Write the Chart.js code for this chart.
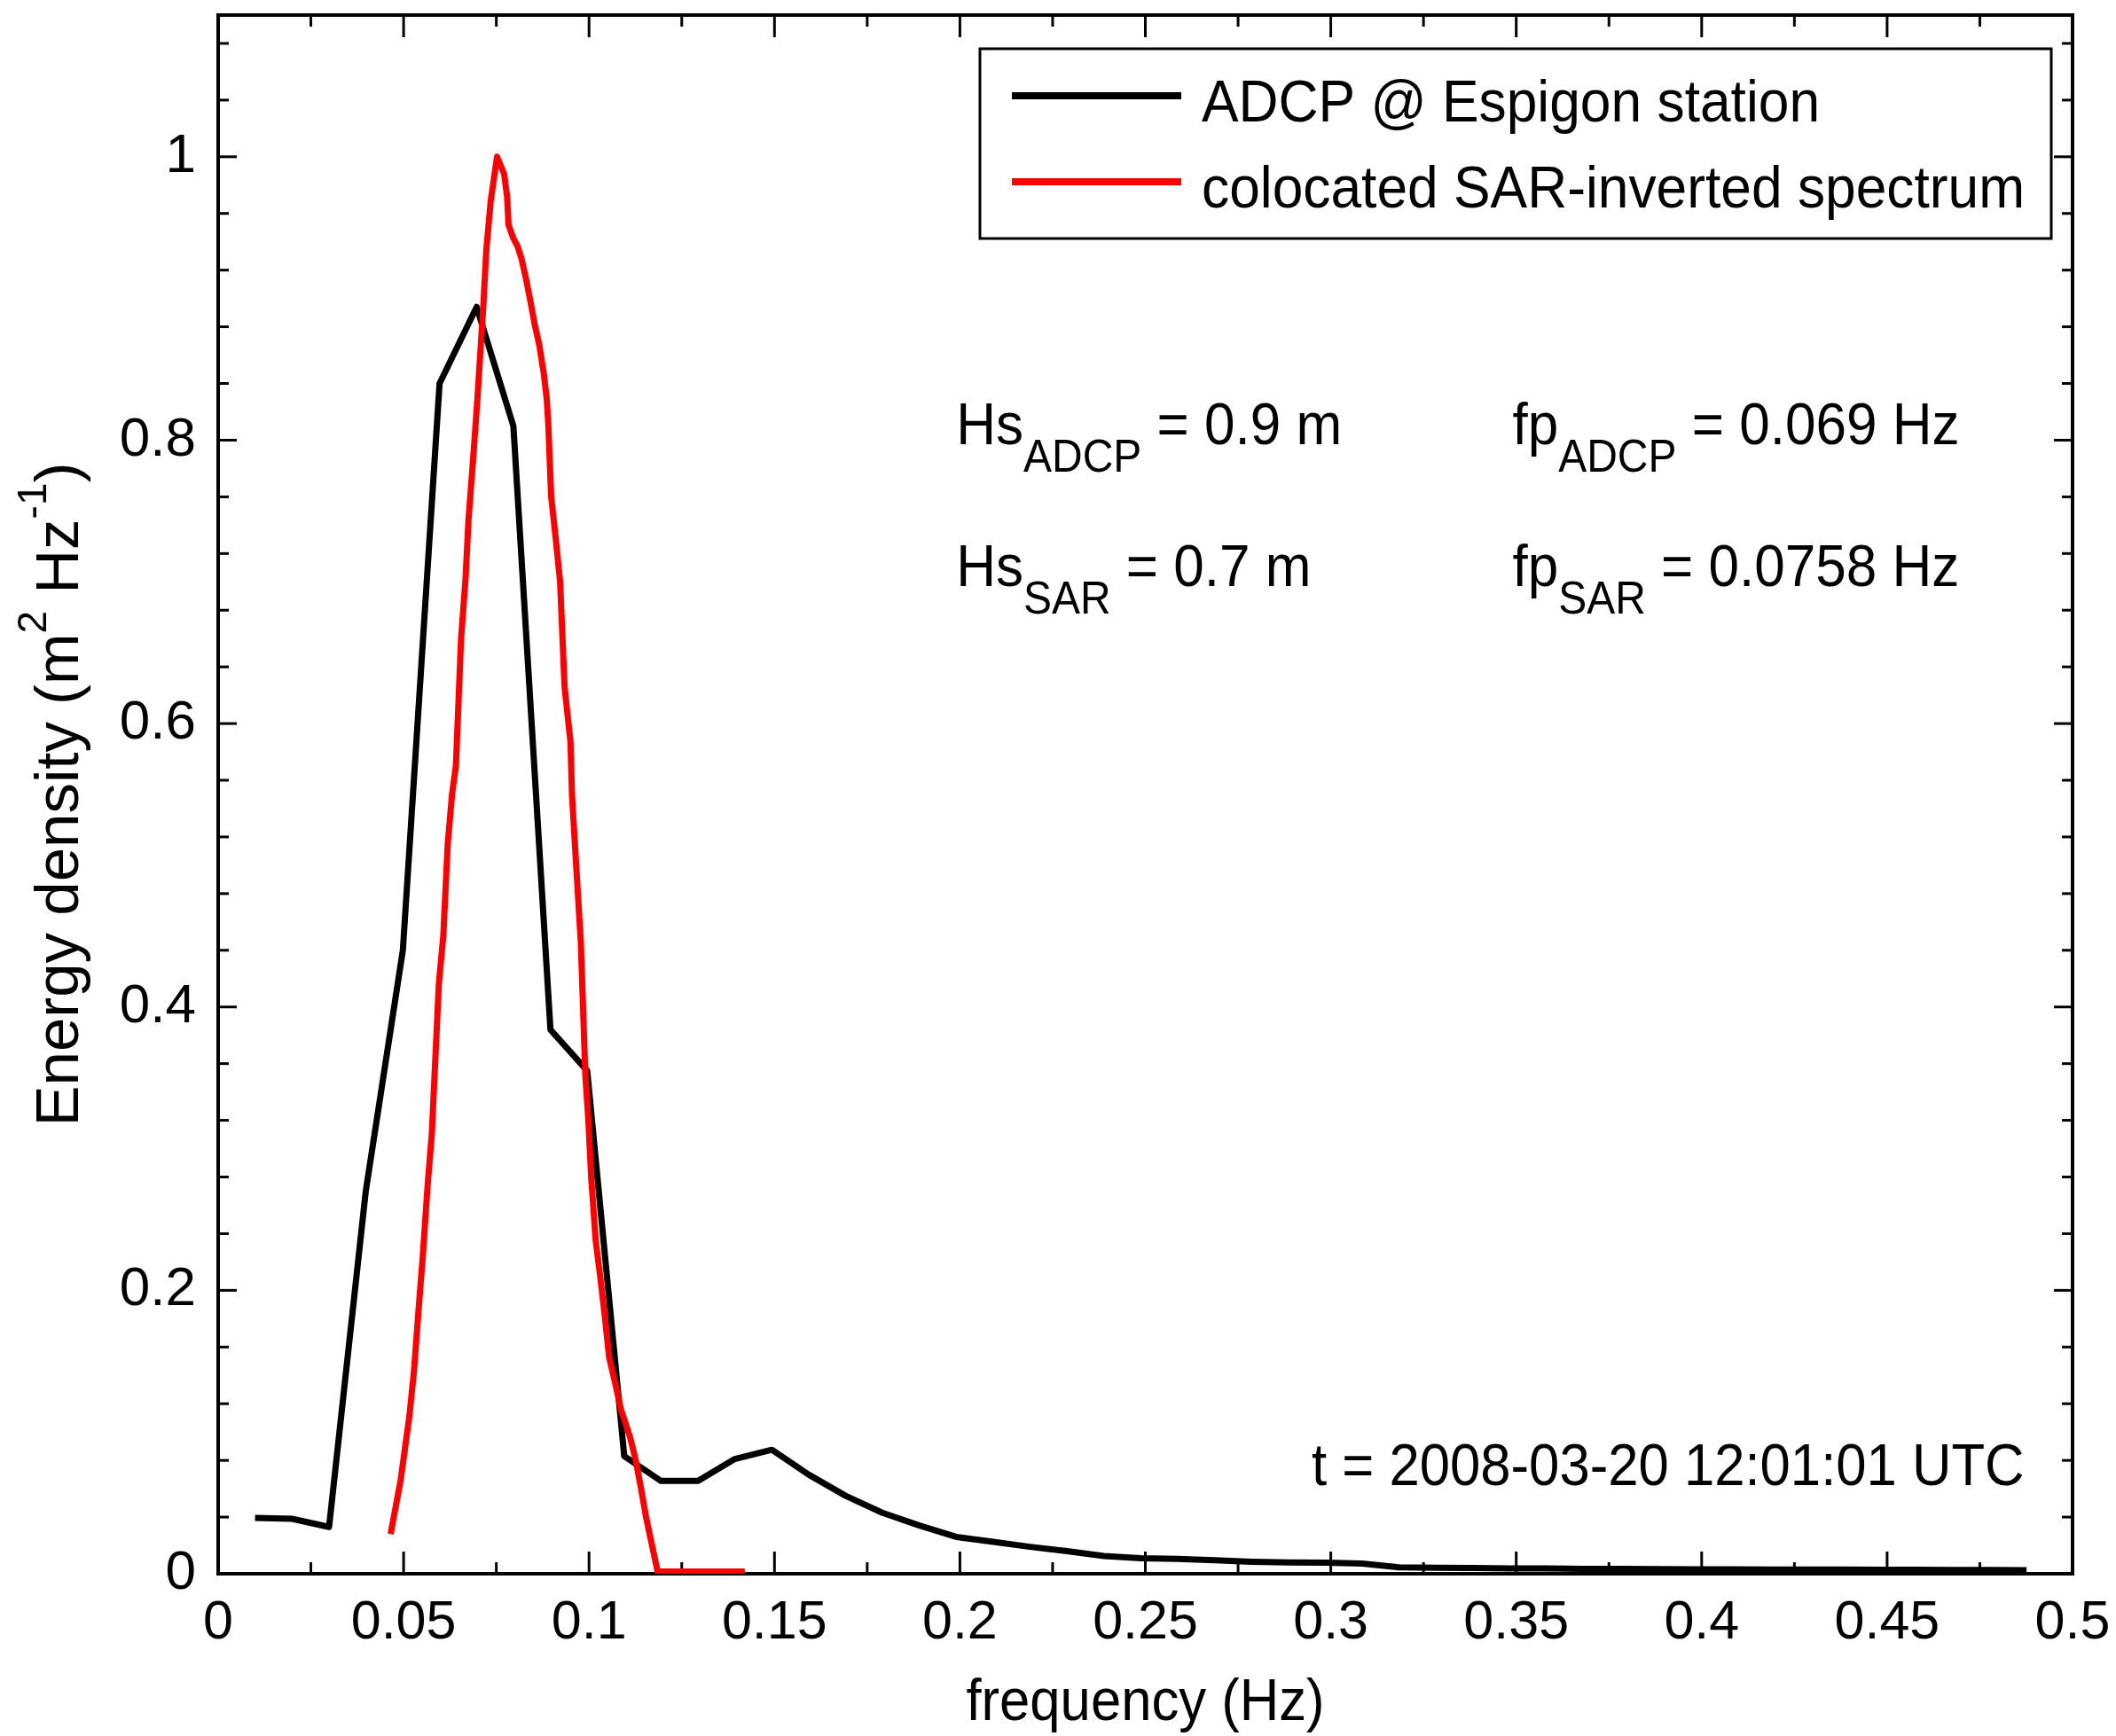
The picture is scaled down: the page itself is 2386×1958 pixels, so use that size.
<!DOCTYPE html>
<html>
<head>
<meta charset="utf-8">
<script src="https://cdn.jsdelivr.net/npm/chart.js@4.4.1/dist/chart.umd.min.js"></script>
<style>
  html, body { margin: 0; padding: 0; background: #fff; }
  #spectrumChart { display: block; }
</style>
</head>
<body>
<canvas id="spectrumChart" width="2386" height="1958"></canvas>
<script>
// ADCP spectrum (one value per frequency bin)
const adcpFreq = [0.00995, 0.0199, 0.0299, 0.0398, 0.0498, 0.0597, 0.0697, 0.0796, 0.0896, 0.0995,
  0.1095, 0.1194, 0.1294, 0.1393, 0.1493, 0.1592, 0.1692, 0.1791, 0.1891, 0.1990,
  0.2090, 0.2189, 0.2289, 0.2388, 0.2488, 0.2587, 0.2687, 0.2786, 0.2886, 0.2985,
  0.3085, 0.3184, 0.3284, 0.3383, 0.3483, 0.3582, 0.3682, 0.3781, 0.3881, 0.3980,
  0.4080, 0.4179, 0.4279, 0.4378, 0.4478, 0.4577, 0.4677, 0.4776, 0.4876];
const adcpDensity = [0.0394, 0.0388, 0.033, 0.270, 0.440, 0.840, 0.894, 0.810, 0.384, 0.355,
  0.083, 0.0655, 0.0655, 0.081, 0.0875, 0.070, 0.055, 0.043, 0.034, 0.026,
  0.0225, 0.019, 0.016, 0.0125, 0.011, 0.0105, 0.0095, 0.0085, 0.008, 0.0078,
  0.0072, 0.0045, 0.0042, 0.004, 0.0038, 0.0037, 0.0035, 0.0034, 0.0033, 0.0032,
  0.0031, 0.003, 0.003, 0.0029, 0.0028, 0.0028, 0.0027, 0.0026, 0.0025];

// SAR-inverted spectrum
const sarFreq = [0.0465, 0.0480, 0.0492, 0.0504, 0.0516, 0.0528, 0.0540, 0.0552, 0.0565, 0.0576,
  0.0585, 0.0595, 0.0607, 0.0619, 0.0631, 0.0641, 0.0655, 0.0667, 0.0675, 0.0687,
  0.0699, 0.0715, 0.0723, 0.0735, 0.0752, 0.0771, 0.0779, 0.0783, 0.0795, 0.0807,
  0.0818, 0.0830, 0.0842, 0.0854, 0.0866, 0.0878, 0.0886, 0.0890, 0.0898, 0.0910,
  0.0922, 0.0934, 0.0950, 0.0954, 0.0966, 0.0978, 0.0990, 0.0998, 0.1006, 0.1018,
  0.1030, 0.1042, 0.1054, 0.1070, 0.1086, 0.1110, 0.1126, 0.1141, 0.1153, 0.1165,
  0.1185, 0.1420];
const sarDensity = [0.028, 0.049, 0.066, 0.089, 0.112, 0.143, 0.185, 0.225, 0.275, 0.31,
  0.36, 0.416, 0.45, 0.515, 0.551, 0.57, 0.66, 0.702, 0.744, 0.785,
  0.829, 0.895, 0.934, 0.969, 1.0, 0.988, 0.972, 0.952, 0.943, 0.937,
  0.928, 0.914, 0.898, 0.881, 0.867, 0.847, 0.829, 0.812, 0.76, 0.731,
  0.70, 0.626, 0.587, 0.55, 0.497, 0.445, 0.352, 0.321, 0.279, 0.235,
  0.21, 0.183, 0.153, 0.135, 0.116, 0.097, 0.08, 0.059, 0.041, 0.026,
  0.0015, 0.0015];

const seriesLabels = ['ADCP @ Espigon station', 'colocated SAR-inverted spectrum'];
const seriesColors = ['#000000', '#ff0000'];

// axes
const xTickValues = [0, 0.05, 0.1, 0.15, 0.2, 0.25, 0.3, 0.35, 0.4, 0.45, 0.5];
const xTickLabels = ['0', '0.05', '0.1', '0.15', '0.2', '0.25', '0.3', '0.35', '0.4', '0.45', '0.5'];
const xMinorTicks = [0.025, 0.075, 0.125, 0.175, 0.225, 0.275, 0.325, 0.375, 0.425, 0.475];
const yTickValues = [0, 0.2, 0.4, 0.6, 0.8, 1];
const yTickLabels = ['0', '0.2', '0.4', '0.6', '0.8', '1'];
const yMinorTicks = [0.04, 0.08, 0.12, 0.16, 0.24, 0.28, 0.32, 0.36, 0.44, 0.48, 0.52, 0.56,
  0.64, 0.68, 0.72, 0.76, 0.84, 0.88, 0.92, 0.96, 1.04, 1.08];

const FONT = '"Liberation Sans", Arial, sans-serif';

// draws text parts [text, size, dy] one after the other, squeezed a bit horizontally
function richText(ctx, parts, x, y, align, sx) {
  let total = 0;
  parts.forEach(p => {
    ctx.font = p[1] + 'px ' + FONT;
    total += ctx.measureText(p[0]).width * sx;
  });
  let cx = x;
  if (align === 'center') cx = x - total / 2;
  if (align === 'right') cx = x - total;
  parts.forEach(p => {
    ctx.font = p[1] + 'px ' + FONT;
    const w = ctx.measureText(p[0]).width * sx;
    ctx.save();
    ctx.translate(cx, y + (p[2] || 0));
    ctx.scale(sx, 1);
    ctx.textAlign = 'left';
    ctx.textBaseline = 'alphabetic';
    ctx.fillText(p[0], 0, 0);
    ctx.restore();
    cx += w;
  });
}

function line(ctx, x1, y1, x2, y2) {
  ctx.beginPath();
  ctx.moveTo(x1, y1);
  ctx.lineTo(x2, y2);
  ctx.stroke();
}

const frameAndNotes = {
  id: 'frameAndNotes',
  beforeDatasetsDraw(chart) {
    const ctx = chart.ctx;
    const a = chart.chartArea;
    const xs = chart.scales.x;
    const ys = chart.scales.y;
    ctx.save();
    ctx.strokeStyle = '#000';
    ctx.lineWidth = 3;
    // inward ticks on all four sides
    xTickValues.forEach(v => {
      const px = xs.getPixelForValue(v);
      line(ctx, px, a.bottom, px, a.bottom - 25);
      line(ctx, px, a.top, px, a.top + 25);
    });
    xMinorTicks.forEach(v => {
      const px = xs.getPixelForValue(v);
      line(ctx, px, a.bottom, px, a.bottom - 13);
      line(ctx, px, a.top, px, a.top + 13);
    });
    yTickValues.forEach(v => {
      const py = ys.getPixelForValue(v);
      line(ctx, a.left, py, a.left + 21, py);
      line(ctx, a.right, py, a.right - 21, py);
    });
    yMinorTicks.forEach(v => {
      const py = ys.getPixelForValue(v);
      line(ctx, a.left, py, a.left + 12, py);
      line(ctx, a.right, py, a.right - 12, py);
    });
    ctx.lineWidth = 4;
    ctx.strokeRect(a.left, a.top, a.right - a.left, a.bottom - a.top);
    ctx.restore();
  },
  afterDatasetsDraw(chart) {
    const ctx = chart.ctx;
    const a = chart.chartArea;
    const xs = chart.scales.x;
    const ys = chart.scales.y;
    ctx.save();
    ctx.fillStyle = '#000';

    // legend
    ctx.strokeStyle = '#000';
    ctx.lineWidth = 3;
    ctx.strokeRect(1105, 55, 1208, 214);
    const rows = [108, 205];
    seriesLabels.forEach((lab, i) => {
      ctx.strokeStyle = seriesColors[i];
      ctx.lineWidth = 8;
      line(ctx, 1141, rows[i], 1332, rows[i]);
      richText(ctx, [[lab, 67]], 1355, rows[i] + 29, 'left', 0.93);
    });

    // wave parameters
    const sub = 31;
    richText(ctx, [['Hs', 66], ['ADCP', 51, sub], [' = 0.9 m', 66]],
      xs.getPixelForValue(0.199), ys.getPixelForValue(0.797), 'left', 0.94);
    richText(ctx, [['fp', 66], ['ADCP', 51, sub], [' = 0.069 Hz', 66]],
      xs.getPixelForValue(0.349), ys.getPixelForValue(0.797), 'left', 0.94);
    richText(ctx, [['Hs', 66], ['SAR', 51, sub], [' = 0.7 m', 66]],
      xs.getPixelForValue(0.199), ys.getPixelForValue(0.697), 'left', 0.94);
    richText(ctx, [['fp', 66], ['SAR', 51, sub], [' = 0.0758 Hz', 66]],
      xs.getPixelForValue(0.349), ys.getPixelForValue(0.697), 'left', 0.94);
    richText(ctx, [['t = 2008-03-20 12:01:01 UTC', 67]],
      xs.getPixelForValue(0.487), ys.getPixelForValue(0.0626), 'right', 0.92);

    // axis titles
    richText(ctx, [['frequency (Hz)', 67]], (a.left + a.right) / 2, 1940, 'center', 0.92);
    ctx.save();
    ctx.translate(88, (a.top + a.bottom) / 2);
    ctx.rotate(-Math.PI / 2);
    richText(ctx, [['Energy density (m', 69], ['2', 46, -36], [' Hz', 69], ['-1', 46, -36], [')', 69]],
      0, 0, 'center', 1);
    ctx.restore();
    ctx.restore();
  }
};

const ctx = document.getElementById('spectrumChart').getContext('2d');

new Chart(ctx, {
  type: 'line',
  data: {
    datasets: [{
      label: seriesLabels[0],
      data: adcpFreq.map((f, i) => ({ x: f, y: adcpDensity[i] })),
      borderColor: seriesColors[0],
      borderWidth: 7,
      borderJoinStyle: 'round',
      pointRadius: 0,
      tension: 0,
      order: 2
    }, {
      label: seriesLabels[1],
      data: sarFreq.map((f, i) => ({ x: f, y: sarDensity[i] })),
      borderColor: seriesColors[1],
      borderWidth: 7,
      borderJoinStyle: 'round',
      pointRadius: 0,
      tension: 0,
      order: 1
    }]
  },
  options: {
    responsive: false,
    animation: false,
    layout: { padding: { left: 0, right: 49, top: 17, bottom: 0 } },
    plugins: {
      legend: { display: false },
      tooltip: { enabled: false }
    },
    scales: {
      x: {
        type: 'linear',
        min: 0,
        max: 0.5,
        grid: { display: false, drawTicks: false },
        border: { display: false },
        afterBuildTicks: scale => { scale.ticks = xTickValues.map(v => ({ value: v })); },
        afterFit: scale => {
          scale.height = 183;
          scale.paddingLeft = 0;
          scale.paddingRight = 0;
        },
        ticks: {
          autoSkip: false,
          maxRotation: 0,
          minRotation: 0,
          padding: 20,
          color: '#000',
          font: { family: FONT, size: 61 },
          callback: (value, index) => xTickLabels[index]
        }
      },
      y: {
        type: 'linear',
        min: 0,
        max: 1.1,
        grid: { display: false, drawTicks: false },
        border: { display: false },
        afterBuildTicks: scale => { scale.ticks = yTickValues.map(v => ({ value: v })); },
        afterFit: scale => {
          scale.width = 246;
          scale.paddingTop = 0;
          scale.paddingBottom = 0;
        },
        ticks: {
          autoSkip: false,
          padding: 25,
          color: '#000',
          font: { family: FONT, size: 62 },
          callback: (value, index) => yTickLabels[index]
        }
      }
    }
  },
  plugins: [frameAndNotes]
});
</script>
</body>
</html>
